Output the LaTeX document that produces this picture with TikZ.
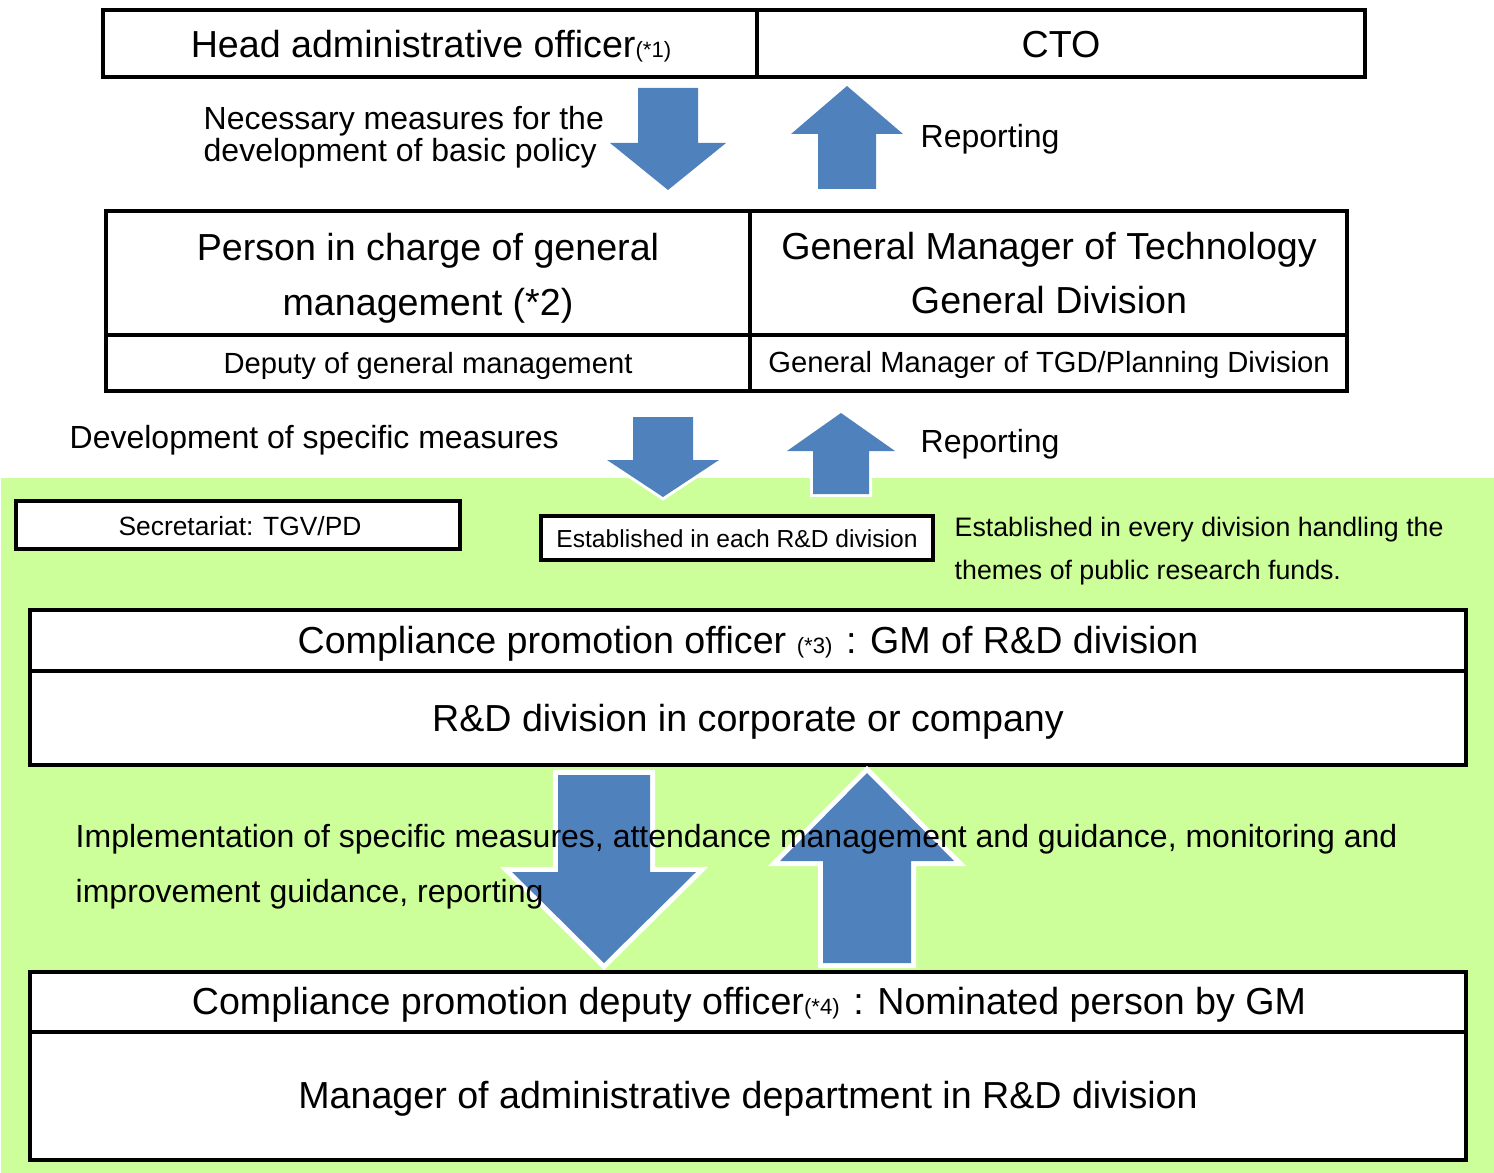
\documentclass[tikz,border=0pt]{standalone}
\usepackage{fontspec}
\setmainfont{Liberation Sans}
\usepackage{tikz}
\definecolor{arrowblue}{HTML}{4F81BD}
\definecolor{areagreen}{HTML}{CCFF99}
\def\blockarrow[#1](#2,#3)(#4:#5:#6:#7){\draw[#1] (#2,#3) -- ({#2+#5},#4) -- ({#2+#6},#4) -- ({#2+#6},#7) -- ({#2-#6},#7) -- ({#2-#6},#4) -- ({#2-#5},#4) -- cycle;}
\tikzset{
	frame/.style={line width=0.9pt, fill=white},
	blk/.style={fill=arrowblue, draw=none},
	blkout/.style={fill=arrowblue, draw=none, line join=miter, preaction={draw=white, line width=#1}},
	bigtxt/.style={font=\fontsize{10.7}{15.6}\selectfont, align=center},
	midtxt/.style={font=\fontsize{9.1}{15.6}\selectfont, align=left, anchor=west},
	deptxt/.style={font=\fontsize{8.3}{10}\selectfont},
	smalltxt/.style={font=\fontsize{#1}{12.2}\selectfont}
}
\newcommand{\supnote}[1]{{\fontsize{6.3}{7}\selectfont #1}}
\newcommand{\widecolon}{\makebox[1em]{:}}

\begin{document}
\begin{tikzpicture}[x=0.01cm, y=-0.01cm, every node/.style={inner sep=0pt}]
			%%%%% START %%%%%
			\useasboundingbox (0,0) rectangle (1494,1173);
			\fill[areagreen] (1,478) rectangle (1494,1173);
			
			\draw[frame] (103,10) rectangle (757,77);
			\draw[frame] (757,10) rectangle (1365,77);
			\node[bigtxt] (head) at (431,46) {Head administrative officer\supnote{(*1)}};
			\node[bigtxt] (cto) at (1061,45) {CTO};
			
			\blockarrow[blk](668,190)(143:58:30:88)
			\blockarrow[blk](847,86)(134:56:29:189)
			\node[midtxt, font=\fontsize{9.1}{9.1}\selectfont] (policy) at (203,137) {Necessary measures for the\\development of basic policy};
			\node[midtxt] (report1) at (920,139) {Reporting};
			
			\draw[frame] (106,211) rectangle (750,335);
			\draw[frame] (750,211) rectangle (1347,335);
			\draw[frame] (106,335) rectangle (750,391);
			\draw[frame] (750,335) rectangle (1347,391);
			\node[bigtxt] (general) at (428,278) {Person in charge of general\\management (*2)};
			\node[bigtxt] (tgd) at (1049,273) {General Manager of Technology\\General Division};
			\node[deptxt] (deputy) at (428,366) {Deputy of general management};
			\node[deptxt] (planning) at (1049,365) {General Manager of TGD/Planning Division};
			
			\node[midtxt] (specific) at (69,440) {Development of specific measures};
			\blockarrow[blkout=1.7pt](663,497)(460:56:30:417)
			\blockarrow[blkout=1.7pt](841,413)(451:54:28:494)
			\node[midtxt] (report2) at (920,444) {Reporting};
			
			\draw[frame] (16,501) rectangle (460,549);
			\node[smalltxt=7.5] (secretariat) at (240,526) {Secretariat: TGV/PD};
			\draw[frame] (541,516) rectangle (933,560);
			\node[smalltxt=7] (each) at (737,539) {Established in each R\&D division};
			\node[smalltxt=7.6, align=left, anchor=west] (every) at (954,551) {Established in every division handling the\\themes of public research funds.};
			
			\draw[frame] (30,610) rectangle (1466,671);
			\draw[frame] (30,671) rectangle (1466,765);
			\node[bigtxt] (promotion) at (748,644) {Compliance promotion officer \supnote{(*3)}\widecolon GM of R\&D division};
			\node[bigtxt] (rnd) at (748,722) {R\&D division in corporate or company};
			
			\blockarrow[blkout=2.85pt](604,963)(872:92:46:775)
			\blockarrow[blkout=2.85pt](867,773)(861:87:44:963)
			\node[midtxt] (implement) at (75,867) {Implementation of specific measures, attendance management and guidance, monitoring and\\improvement guidance, reporting};
			
			\draw[frame] (30,972) rectangle (1466,1032);
			\draw[frame] (30,1032) rectangle (1466,1160);
			\node[bigtxt] (deputyofficer) at (749,1005) {Compliance promotion deputy officer\supnote{(*4)}\widecolon Nominated person by GM};
			\node[bigtxt] (manager) at (748,1099) {Manager of administrative department in R\&D division};
			%%%%% END %%%%%
\end{tikzpicture}
\end{document}
